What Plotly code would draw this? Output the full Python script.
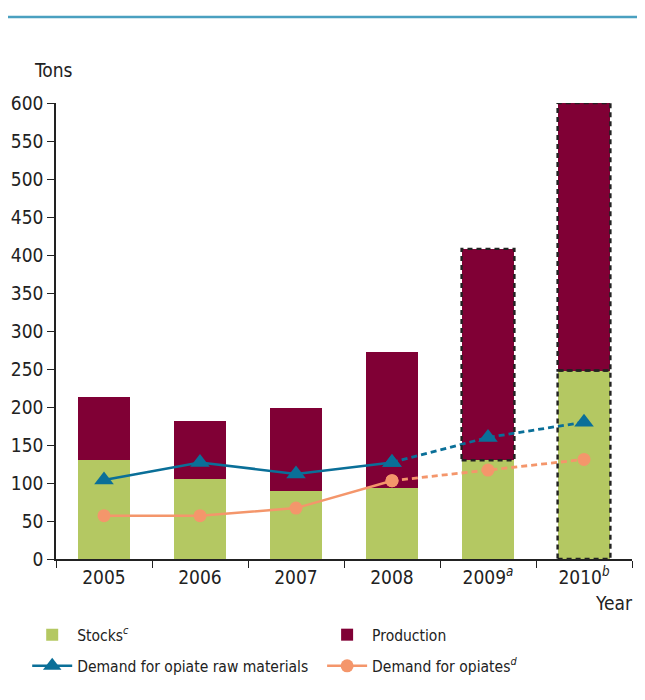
import plotly.graph_objects as go

years = ["2005", "2006", "2007", "2008", "2009", "2010"]
year_labels = ["2005", "2006", "2007", "2008", "2009<sup><i>a</i></sup>", "2010<sup><i>b</i></sup>"]
stocks = [130, 105, 89, 94, 130, 248]
production = [83, 76, 110, 178, 278, 352]
demand_raw = [104, 127, 112, 127, 160, 180]
demand_opiates = [57, 57, 67, 103, 117, 131]
y_ticks = [0, 50, 100, 150, 200, 250, 300, 350, 400, 450, 500, 550, 600]
# which bar segments are drawn with a dashed outline (estimates)
prod_dashed = [False, False, False, False, True, True]
stock_dashed = [False, False, False, False, False, True]
n_actual = 4  # first four years are actual values; later ones dashed

FONT = "DejaVu Sans Condensed, Liberation Sans Narrow, Arial Narrow, sans-serif"
GREEN = "#b4c862"
MAROON = "#800035"
BLUE = "#0a6f98"
ORANGE = "#f4966b"
TXT = "#222222"
BAR_W = 0.55
TICK_SIZE = 19
LEG_SIZE = 15.5

fig = go.Figure()
fig.add_trace(go.Bar(x=years, y=stocks, name="Stocks<sup><i>c</i></sup>",
                     legend="legend", legendgroup="g1",
                     marker=dict(color=GREEN, line=dict(width=0)), width=BAR_W))
fig.add_trace(go.Bar(x=years, y=production, name="Production",
                     legend="legend2", legendgroup="g2",
                     marker=dict(color=MAROON, line=dict(width=0)), width=BAR_W))

fig.add_trace(go.Scatter(x=years[:n_actual], y=demand_raw[:n_actual], mode="lines+markers",
                         name="Demand for opiate raw materials",
                         legend="legend", legendgroup="g3",
                         line=dict(color=BLUE, width=2.5),
                         marker=dict(symbol="triangle-up", size=17, color=BLUE)))
fig.add_trace(go.Scatter(x=years[n_actual - 1:], y=demand_raw[n_actual - 1:], mode="lines+markers",
                         showlegend=False,
                         line=dict(color=BLUE, width=2.8, dash="6px,4px"),
                         marker=dict(symbol="triangle-up", size=17, color=BLUE)))
fig.add_trace(go.Scatter(x=years[:n_actual], y=demand_opiates[:n_actual], mode="lines+markers",
                         name="Demand for opiates<sup><i>d</i></sup>",
                         legend="legend2", legendgroup="g4",
                         line=dict(color=ORANGE, width=2.5),
                         marker=dict(symbol="circle", size=13, color=ORANGE)))
fig.add_trace(go.Scatter(x=years[n_actual - 1:], y=demand_opiates[n_actual - 1:], mode="lines+markers",
                         showlegend=False,
                         line=dict(color=ORANGE, width=2.8, dash="6px,4px"),
                         marker=dict(symbol="circle", size=13, color=ORANGE)))

shapes = []
for i in range(len(years)):
    if prod_dashed[i]:
        shapes.append(dict(type="rect", xref="x", yref="y",
                           x0=i - BAR_W / 2, x1=i + BAR_W / 2,
                           y0=stocks[i], y1=stocks[i] + production[i],
                           line=dict(color=TXT, width=2.4, dash="5px,4px"), layer="above"))
    if stock_dashed[i]:
        shapes.append(dict(type="rect", xref="x", yref="y",
                           x0=i - BAR_W / 2, x1=i + BAR_W / 2,
                           y0=0, y1=stocks[i],
                           line=dict(color=TXT, width=2.4, dash="5px,4px"), layer="above"))
# header rule
shapes.append(dict(type="line", xref="paper", yref="paper", x0=-0.085, x1=1.014,
                   y0=1.1886, y1=1.1886, line=dict(color="#4aa0c0", width=2.5)))

leg_common = dict(orientation="v", yanchor="top", xanchor="left", traceorder="grouped",
                  tracegroupgap=8, itemwidth=40, bgcolor="rgba(0,0,0,0)",
                  font=dict(family=FONT, size=LEG_SIZE, color=TXT))

# page body has an 8px default margin, so the figure is 8px smaller than the window
fig.update_layout(
    width=637, height=692,
    margin=dict(l=48, r=13, t=95, b=141, autoexpand=False),
    plot_bgcolor="white", paper_bgcolor="white",
    barmode="stack",
    font=dict(family=FONT, size=TICK_SIZE, color=TXT),
    showlegend=True,
    legend=dict(x=-0.050, y=-0.1296, **leg_common),
    legend2=dict(x=0.462, y=-0.1296, **leg_common),
    shapes=shapes,
    annotations=[
        dict(text="Tons", xref="paper", yref="paper", x=-0.0052, y=1.0724, xanchor="center",
             yanchor="middle", showarrow=False, font=dict(family=FONT, size=TICK_SIZE, color=TXT)),
        dict(text="Year", xref="paper", yref="paper", x=1.005, y=-0.096, xanchor="right",
             yanchor="middle", showarrow=False, font=dict(family=FONT, size=TICK_SIZE, color=TXT)),
    ],
)
fig.update_xaxes(type="category", categoryarray=years, tickvals=years, ticktext=year_labels,
                 tickson="boundaries", ticks="outside", ticklen=7, tickcolor=TXT,
                 showline=True, linecolor=TXT, linewidth=1.5, showgrid=False,
                 range=[-0.5, len(years) - 0.5], tickfont=dict(family=FONT, size=TICK_SIZE, color=TXT))
fig.update_yaxes(range=[0, 600], tickvals=y_ticks, ticks="outside", ticklen=7, tickcolor=TXT,
                 showline=True, linecolor=TXT, linewidth=1.5, showgrid=False, zeroline=False,
                 tickfont=dict(family=FONT, size=TICK_SIZE, color=TXT))

fig.write_html("out.html")
